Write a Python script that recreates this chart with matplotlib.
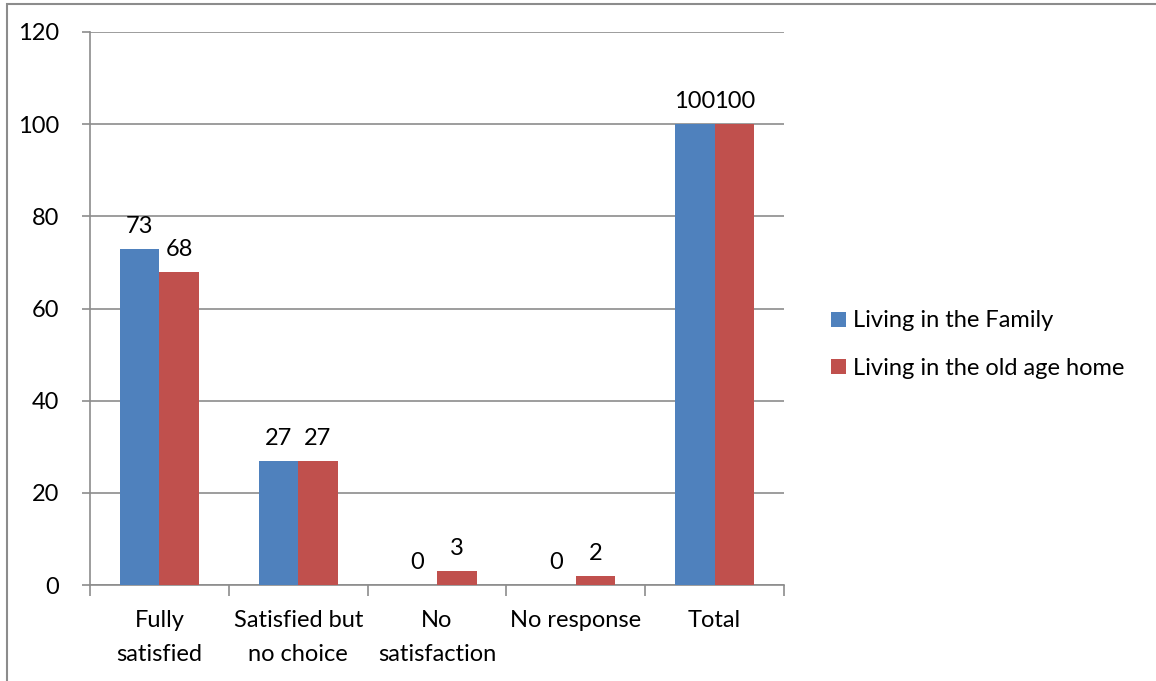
import matplotlib
matplotlib.use("Agg")
import matplotlib.pyplot as plt
import numpy as np
from matplotlib.patches import Rectangle

categories = ["Fully\nsatisfied", "Satisfied but\nno choice", "No\nsatisfaction", "No response", "Total"]
family = [73, 27, 0, 0, 100]
old_age_home = [68, 27, 3, 2, 100]
series_names = ["Living in the Family", "Living in the old age home"]
colors = ["#4F81BD", "#C0504D"]

plt.rcParams['font.family'] = ['Lato', 'DejaVu Sans']
FS = 17

fig = plt.figure(figsize=(11.56, 6.81), dpi=100)
ax = fig.add_axes([90/1156, 1-585/681, (784-90)/1156, (585-32)/681])

x = np.arange(len(categories))
w = 0.285
for i, (vals, name, c) in enumerate(zip([family, old_age_home], series_names, colors)):
    pos = x + (i - 0.5) * w
    ax.bar(pos, vals, width=w, color=c, label=name, zorder=3)
    for p, v in zip(pos, vals):
        ax.annotate(str(v), (p, v), xytext=(0, 16), textcoords="offset points",
                    ha="center", va="center", fontsize=FS, color="black")

ax.set_xlim(-0.5, len(categories) - 0.5)
ax.set_ylim(0, 120)
ax.set_yticks(np.arange(0, 121, 20))
ax.yaxis.grid(True, color="#8C8C8C", linewidth=1.2, zorder=0)
ax.set_axisbelow(True)
for s in ["top", "right"]:
    ax.spines[s].set_visible(False)
for s in ["left", "bottom"]:
    ax.spines[s].set_color("#8C8C8C")
    ax.spines[s].set_linewidth(1.2)

ax.set_xticks(np.arange(-0.5, len(categories), 1.0))
ax.set_xticklabels([])
ax.set_xticks(x, minor=True)
ax.set_xticklabels(categories, minor=True, fontsize=FS, linespacing=1.75)
ax.tick_params(axis="x", which="major", length=8, color="#8C8C8C", width=1.2)
ax.tick_params(axis="x", which="minor", length=0, pad=18)
ax.tick_params(axis="y", length=6, color="#8C8C8C", width=1.2, labelsize=FS, pad=16)

fig.legend(loc="upper left", bbox_to_anchor=(822/1156, 1-301/681), frameon=False,
           fontsize=FS, handlelength=0.6, handleheight=0.6, handletextpad=0.3,
           labelspacing=1.12, borderaxespad=0)

fig.patches.append(Rectangle((6.5/1156, -0.1), 1.2, 1 - 3.5/681 + 0.1, transform=fig.transFigure,
                             fill=False, edgecolor="#8C8C8C", linewidth=1.5))

fig.savefig("out.png", dpi=100)
